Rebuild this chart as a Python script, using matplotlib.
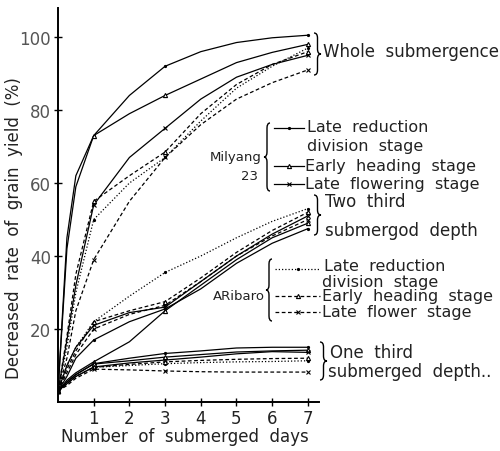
import matplotlib
matplotlib.use('Agg')
import matplotlib.pyplot as plt
from matplotlib.lines import Line2D
from matplotlib.path import Path
from matplotlib.patches import PathPatch
from matplotlib.transforms import Affine2D

plt.rcParams['font.family'] = ['DejaVu Sans']

W, H = 500, 452

# days after submergence at which values were read
days = [0, 0.25, 0.5, 1, 2, 3, 4, 5, 6, 7]
marked = [0, 3, 5, 9]  # days 0, 1, 3, 7 carry markers

# Milyang 23 (solid lines)
mil_whole_reduction = [3, 45, 62, 73, 84, 92, 96, 98.5, 99.8, 100.5]
mil_whole_heading = [3, 42, 59, 73, 79, 84, 88.5, 93, 95.8, 98]
mil_whole_flowering = [3, 17, 32, 54, 67, 75, 83, 89, 92.5, 95]
mil_two_reduction = [3, 7, 12, 17, 22, 25.5, 31, 38, 43.5, 47.5]
mil_two_heading = [3, 6, 8, 11, 16.5, 25, 32, 39, 45, 49]
mil_two_flowering = [3, 10, 15, 21, 24.5, 26, 33, 40, 46, 51]
mil_one_reduction = [3, 5.5, 7.5, 10.5, 12, 13.3, 14, 14.8, 15, 15]
mil_one_heading = [3, 5.5, 7.5, 10.4, 11.3, 12.3, 13, 13.7, 14, 14.2]
mil_one_flowering = [3, 5, 7, 9.6, 10.7, 11.5, 12.3, 13.2, 13.8, 13.6]

# ARibaro (dotted / dashed lines)
ari_whole_reduction = [3, 15, 30, 50, 60, 67, 77, 86, 92, 97]
ari_whole_heading = [3, 18, 35, 55, 62, 68.5, 79, 87, 92.5, 96]
ari_whole_flowering = [3, 12, 25, 39, 55, 67, 76, 83, 87.5, 91]
ari_two_reduction = [3, 10, 15, 22, 29, 35.5, 40, 45, 49.5, 53]
ari_two_heading = [3, 9, 14, 22, 25, 27.5, 34, 41, 47, 52]
ari_two_flowering = [3, 8, 13, 20, 24, 26.5, 33, 40, 45.5, 50]
ari_one_reduction = [3, 5, 7, 9.5, 10, 10.5, 10.8, 11, 11.1, 11.3]
ari_one_heading = [3, 5, 7, 9.5, 10.3, 11, 11.4, 11.7, 11.9, 12]
ari_one_flowering = [3, 4.5, 6.5, 9, 8.8, 8.5, 8.3, 8.2, 8.2, 8.2]

dotted = (0, (1, 1.6))
dashed = (0, (3, 2))

series = [
    (mil_whole_reduction, '-', '.'), (mil_whole_heading, '-', '^'), (mil_whole_flowering, '-', 'x'),
    (mil_two_reduction, '-', '.'), (mil_two_heading, '-', '^'), (mil_two_flowering, '-', 'x'),
    (mil_one_reduction, '-', '.'), (mil_one_heading, '-', '^'), (mil_one_flowering, '-', 'x'),
    (ari_whole_reduction, dotted, '.'), (ari_whole_heading, dashed, '^'), (ari_whole_flowering, dashed, 'x'),
    (ari_two_reduction, dotted, '.'), (ari_two_heading, dashed, '^'), (ari_two_flowering, dashed, 'x'),
    (ari_one_reduction, dotted, '.'), (ari_one_heading, dashed, '^'), (ari_one_flowering, dashed, 'x'),
]

fig = plt.figure(figsize=(W / 100, H / 100), dpi=100)
ax = fig.add_axes([0.116, 0.1084, 0.5212, 0.872])

for values, ls, mk in series:
    ax.plot(days, values, color='black', lw=0.9, ls=ls, marker=mk, markevery=marked,
            ms=3, mfc='white' if mk == '^' else 'black', mec='black', mew=0.8)

ax.set_xlim(0, 7.3)
ax.set_ylim(0, 108)
ax.spines['top'].set_visible(False)
ax.spines['right'].set_visible(False)
ax.spines['left'].set_linewidth(1.4)
ax.spines['bottom'].set_linewidth(1.4)
ax.set_xticks(range(1, 8))
ax.set_yticks([20, 40, 60, 80, 100])
ax.tick_params(direction='inout', length=6, width=1, labelsize=12, pad=2, colors='black')
ax.tick_params(axis='x', labelcolor='#222222')
ax.tick_params(axis='y', labelcolor='#555555')

# pixel coordinates, origin at top left of the image
pix = Affine2D().scale(1 / W, -1 / H).translate(0, 1) + fig.transFigure


def brace(x, y0, y1, w, lw=1.0):
    # curly brace between y0 (top) and y1 (bottom); w>0 points right, w<0 left
    ym = (y0 + y1) / 2
    d = 5
    h = x + w / 2
    verts = [(x, y0), (h, y0), (h, y0 + d), (h, ym - d), (h, ym), (x + w, ym),
             (h, ym), (h, ym + d), (h, y1 - d), (h, y1), (x, y1)]
    codes = [Path.MOVETO, Path.CURVE3, Path.CURVE3, Path.LINETO, Path.CURVE3, Path.CURVE3,
             Path.CURVE3, Path.CURVE3, Path.LINETO, Path.CURVE3, Path.CURVE3]
    fig.add_artist(PathPatch(Path(verts, codes), transform=pix, fill=False, lw=lw, color='black'))


def label(x, y, s, size=12, ha='left'):
    fig.text(x, y, s, transform=pix, fontsize=size, ha=ha, va='center', color='#222222')


def key(x0, x1, y, ls, mk):
    fig.add_artist(Line2D([x0, x1], [y, y], transform=pix, color='black', lw=0.9, ls=ls))
    fig.add_artist(Line2D([(x0 + x1) / 2], [y], transform=pix, color='black', marker=mk, ms=3,
                          mfc='white' if mk == '^' else 'black', mew=0.8, ls='none'))


# group labels on the right
brace(314, 34, 76, 7)
label(323, 52, 'Whole  submergence', 12)
brace(314, 196, 236, 7)
label(325, 202, 'Two  third', 12)
label(325, 231, 'submergod  depth', 12)
brace(320, 343, 381, 7)
label(330, 353, 'One  third', 12)
label(328, 372, 'submerged  depth..', 12)

# Milyang 23 legend
brace(270, 124, 192, -6)
label(262, 158, 'Milyang', 9.5, ha='right')
label(258, 177, '23', 9.5, ha='right')
key(274, 304, 129, '-', '.')
key(274, 304, 167, '-', '^')
key(274, 304, 185, '-', 'x')
label(307, 128, 'Late  reduction', 11.5)
label(307, 147, 'division  stage', 11.5)
label(305, 167, 'Early  heading  stage', 11.5)
label(305, 185, 'Late  flowering  stage', 11.5)

# ARibaro legend
brace(272, 260, 322, -6)
label(265, 297, 'ARibaro', 9.5, ha='right')
key(275, 320, 270, dotted, '.')
key(275, 320, 297, dashed, '^')
key(275, 320, 313, dashed, 'x')
label(324, 267, 'Late  reduction', 11.5)
label(322, 283, 'division  stage', 11.5)
label(322, 297, 'Early  heading  stage', 11.5)
label(322, 313, 'Late  flower  stage', 11.5)

# axis titles
fig.text(185 / W, 1 - 437 / H, 'Number  of  submerged  days', fontsize=12, ha='center', va='center',
         color='#222222')
fig.text(14 / W, 1 - 228 / H, 'Decreased  rate  of  grain  yield  (%)', fontsize=12,
         ha='center', va='center', rotation=90, color='#222222')

fig.savefig('out.png', dpi=100)
